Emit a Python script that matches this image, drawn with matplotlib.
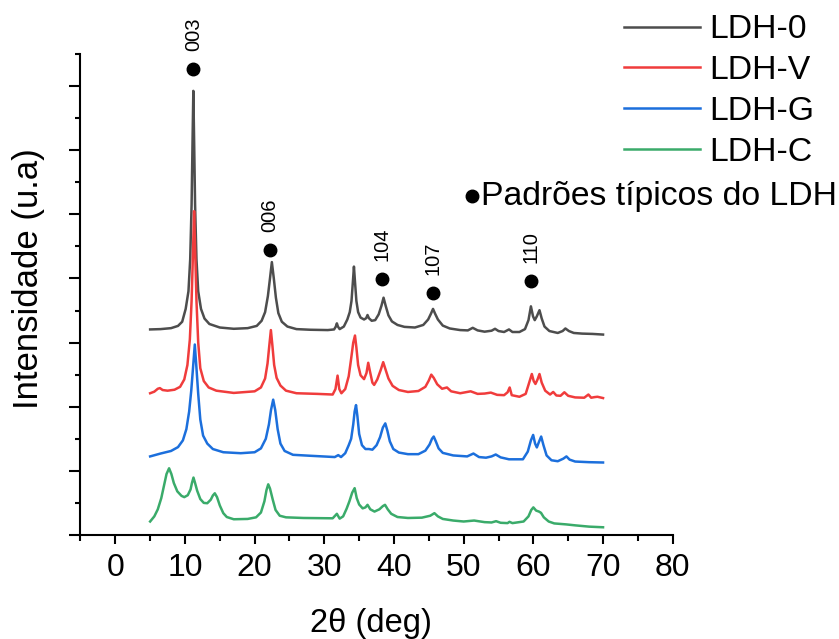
import matplotlib
matplotlib.use("Agg")
import matplotlib.pyplot as plt
from matplotlib.lines import Line2D
from matplotlib.ticker import MultipleLocator

plt.rcParams["font.family"] = ["Liberation Sans", "DejaVu Sans"]

# 2theta (deg) / intensity (u.a.); curves are stacked with offsets
ldh0_x = [5.0, 6.5, 8.0, 9.0, 9.6, 10.1, 10.5, 10.75, 10.95, 11.08, 11.2, 11.32, 11.45,
          11.65, 11.9, 12.3, 12.8, 13.5, 15.0, 17.0, 19.0, 20.3, 21.0, 21.5, 21.9, 22.2,
          22.47, 22.75, 23.05, 23.4, 23.9, 24.7, 26.0, 28.0, 30.5, 31.4, 31.65, 31.8,
          31.95, 32.2, 32.8, 33.3, 33.65, 33.9, 34.1, 34.25, 34.4, 34.6, 34.85, 35.2,
          35.7, 36.0, 36.2, 36.4, 36.8, 37.3, 37.8, 38.2, 38.5, 38.8, 39.2, 39.7, 40.5,
          41.5, 43.0, 44.2, 44.9, 45.3, 45.6, 45.9, 46.3, 47.0, 48.0, 49.5, 50.6, 51.3,
          52.0, 53.0, 54.0, 54.5, 55.0, 55.8, 56.5, 57.0, 58.0, 58.8, 59.3, 59.65, 59.95,
          60.2, 60.5, 60.88, 61.2, 61.6, 62.3, 63.5, 64.2, 64.6, 65.1, 65.8, 67.0, 68.5,
          70.0]
ldh0_y = [6.41, 6.42, 6.45, 6.52, 6.65, 7.05, 7.6, 8.6, 10.3, 12.2, 13.85, 12.2, 10.3,
          8.6, 7.6, 7.05, 6.75, 6.58, 6.47, 6.43, 6.45, 6.52, 6.68, 6.95, 7.45, 8.0,
          8.51, 8.0, 7.4, 6.92, 6.65, 6.5, 6.42, 6.4, 6.39, 6.41, 6.5, 6.6,
          6.5, 6.42, 6.5, 6.72, 6.95, 7.3, 7.9, 8.37, 7.9, 7.3, 6.95, 6.78,
          6.72, 6.76, 6.86, 6.76, 6.68, 6.7, 6.88, 7.15, 7.40, 7.15, 6.85, 6.66, 6.55,
          6.49, 6.47, 6.55, 6.72, 6.9, 7.05, 6.9, 6.72, 6.53, 6.44, 6.39, 6.38, 6.46,
          6.38, 6.34, 6.37, 6.43, 6.36, 6.33, 6.41, 6.33, 6.33, 6.42, 6.7, 7.13, 6.82,
          6.7, 6.82, 7.01, 6.75, 6.5, 6.36, 6.3, 6.36, 6.44, 6.36, 6.3, 6.28, 6.27,
          6.25]

ldhv_x = [5.0, 5.6, 6.1, 6.4, 6.8, 7.5, 8.5, 9.3, 9.9, 10.35, 10.7, 10.95, 11.15, 11.31,
          11.47, 11.65, 11.9, 12.2, 12.7, 13.4, 14.5, 17.0, 20.0, 20.9, 21.5, 21.85, 22.1,
          22.33, 22.55, 22.8, 23.15, 23.7, 24.5, 26.0, 29.0, 31.2, 31.6, 31.9, 32.15,
          32.45, 33.0, 33.5, 33.85, 34.15, 34.4, 34.6, 34.85, 35.2, 35.7, 36.05, 36.3,
          36.55, 36.9, 37.15, 37.6, 38.1, 38.45, 38.8, 39.2, 39.8, 40.7, 42.0, 43.5, 44.5,
          45.0, 45.35, 45.7, 46.2, 46.9, 47.6, 48.2, 49.5, 51.0, 52.0, 53.0, 53.9, 54.8,
          55.8, 56.3, 56.6, 56.9, 58.0, 58.9, 59.4, 59.78, 60.05, 60.3, 60.6, 60.88, 61.2,
          61.7, 62.4, 62.85, 63.3, 63.9, 64.45, 65.0, 66.0, 67.3, 67.9, 68.3, 68.8, 69.2,
          70.0]
ldhv_y = [4.42, 4.47, 4.56, 4.58, 4.52, 4.5, 4.53, 4.62, 4.85, 5.3, 6.1, 7.3, 8.8, 10.10,
          8.8, 7.3, 6.0, 5.2, 4.8, 4.6, 4.5, 4.43, 4.48, 4.6, 4.88, 5.35, 5.9,
          6.39, 5.9, 5.3, 4.9, 4.66, 4.5, 4.42, 4.4, 4.38, 4.55, 4.97, 4.55,
          4.42, 4.55, 4.95, 5.5, 6.0, 6.22, 5.85, 5.3, 4.98, 4.86, 5.05, 5.37,
          5.1, 4.75, 4.68, 4.85, 5.15, 5.39, 5.15, 4.88, 4.65, 4.52, 4.46, 4.49, 4.62,
          4.82, 5.0, 4.9, 4.7, 4.56, 4.6, 4.48, 4.42, 4.48, 4.4, 4.41, 4.44, 4.37,
          4.36, 4.45, 4.6, 4.36, 4.31, 4.4, 4.75, 5.02, 4.8, 4.71, 4.85, 5.02, 4.75,
          4.5, 4.38, 4.46, 4.35, 4.34, 4.45, 4.34, 4.29, 4.28, 4.38, 4.28, 4.3, 4.31,
          4.27]

ldhg_x = [5.0, 6.5, 8.0, 9.0, 9.7, 10.2, 10.6, 10.9, 11.15, 11.41, 11.65, 11.9, 12.2,
          12.6, 13.2, 14.0, 15.5, 18.0, 20.0, 20.9, 21.6, 22.05, 22.35, 22.66, 22.95,
          23.3, 23.7, 24.3, 25.5, 28.0, 31.5, 32.0, 32.4, 33.0, 33.5, 33.85, 34.15, 34.35,
          34.55, 34.75, 35.0, 35.4, 35.9, 36.4, 36.9, 37.5, 38.0, 38.4, 38.75, 39.05,
          39.4, 39.9, 40.7, 42.0, 43.5, 44.5, 45.1, 45.45, 45.7, 46.0, 46.4, 47.0, 48.5,
          50.5, 51.4, 52.2, 53.2, 54.0, 54.6, 55.3, 56.5, 58.5, 59.2, 59.65, 59.97, 60.25,
          60.5, 60.8, 61.12, 61.45, 61.9, 62.6, 63.5, 64.3, 64.75, 65.2, 66.0, 68.0, 70.0]
ldhg_y = [2.45, 2.54, 2.62, 2.74, 2.95, 3.3, 3.85, 4.5, 5.2, 5.94, 5.2, 4.4, 3.6,
          3.1, 2.85, 2.68, 2.58, 2.55, 2.58, 2.7, 3.0, 3.45, 3.9, 4.22, 3.9,
          3.3, 2.85, 2.62, 2.5, 2.47, 2.43, 2.49, 2.43, 2.55, 2.8, 3.0, 3.45, 3.85,
          4.05, 3.7, 3.15, 2.8, 2.68, 2.68, 2.66, 2.8, 3.05, 3.35, 3.48, 3.25,
          2.92, 2.68, 2.57, 2.52, 2.52, 2.63, 2.82, 3.0, 3.07, 2.92, 2.7, 2.56, 2.48,
          2.45, 2.54, 2.43, 2.41, 2.45, 2.51, 2.42, 2.36, 2.36, 2.6, 2.95, 3.12, 2.85,
          2.73, 2.9, 3.07, 2.8, 2.48, 2.33, 2.3, 2.38, 2.45, 2.35, 2.29, 2.27, 2.26]

ldhc_x = [5.0, 5.6, 6.1, 6.6, 7.0, 7.35, 7.72, 8.05, 8.4, 8.9, 9.5, 9.9, 10.4, 10.8,
          11.0, 11.22, 11.45, 11.75, 12.2, 12.7, 13.2, 13.7, 14.0, 14.28, 14.6, 15.0,
          15.5, 16.0, 17.0, 19.0, 20.2, 20.9, 21.4, 21.7, 21.95, 22.2, 22.6, 23.0, 23.6,
          24.5, 27.0, 31.2, 31.8, 32.2, 32.7, 33.2, 33.6, 34.0, 34.35, 34.65, 35.0, 35.5,
          35.9, 36.2, 36.6, 37.2, 37.9, 38.4, 38.71, 39.1, 39.6, 40.5, 42.0, 44.0, 45.2,
          45.8, 46.3, 47.0, 48.5, 50.0, 51.5, 53.0, 54.0, 54.65, 55.3, 56.3, 56.57, 57.0,
          58.6, 59.3, 59.7, 60.0, 60.4, 60.8, 61.1, 61.5, 62.2, 63.0, 64.7, 66.0, 68.0,
          70.0]
ldhc_y = [0.42, 0.58, 0.8, 1.15, 1.55, 1.9, 2.08, 1.9, 1.62, 1.36, 1.22, 1.18, 1.24, 1.42,
          1.62, 1.79, 1.62, 1.38, 1.12, 1.0, 0.99, 1.1, 1.23, 1.30, 1.18, 0.92,
          0.68, 0.56, 0.49, 0.5, 0.55, 0.7, 1.05, 1.4, 1.58, 1.45, 1.1, 0.78, 0.6,
          0.55, 0.53, 0.52, 0.66, 0.51, 0.58, 0.82, 1.05, 1.32, 1.46, 1.15, 0.95, 0.83,
          0.86, 0.94, 0.8, 0.73, 0.8, 0.9, 0.94, 0.8, 0.66, 0.56, 0.53, 0.54, 0.6,
          0.68, 0.58, 0.5, 0.45, 0.42, 0.45, 0.4, 0.39, 0.43, 0.38, 0.37, 0.41, 0.37,
          0.42, 0.58, 0.78, 0.86, 0.76, 0.73, 0.69, 0.55, 0.42, 0.36, 0.33, 0.3, 0.26,
          0.24]

series_names = ["LDH-0", "LDH-V", "LDH-G", "LDH-C"]
series_colors = ["#4d4d4d", "#f03c3c", "#1c6fdc", "#3aab6a"]

# typical LDH reflections marked with dots
hkl_labels = ["003", "006", "104", "107", "110"]
hkl_x = [11.22, 22.18, 38.32, 45.56, 59.68]
hkl_y = [14.53, 8.88, 7.97, 7.55, 7.92]

fig = plt.figure(figsize=(8.39, 6.39), dpi=100)
ax = fig.add_axes([0.0959, 0.1628, 0.7059, 0.7527])

curves = [(ldh0_x, ldh0_y), (ldhv_x, ldhv_y), (ldhg_x, ldhg_y), (ldhc_x, ldhc_y)]
for (xs, ys), name, col in zip(curves, series_names, series_colors):
    ax.plot(xs, ys, color=col, lw=1.8, label=name, solid_joinstyle="round")

ax.plot(hkl_x, hkl_y, "o", color="black", ms=9, ls="none")
for lab, hx, hy in zip(hkl_labels, hkl_x, hkl_y):
    ax.annotate(lab, (hx, hy), xytext=(0, 13), textcoords="offset points",
                rotation=90, ha="center", va="bottom", fontsize=14.5)

ax.set_xlim(-5, 80)
ax.set_ylim(0, 15)
ax.xaxis.set_major_locator(MultipleLocator(10))
ax.xaxis.set_minor_locator(MultipleLocator(5))
ax.yaxis.set_major_locator(MultipleLocator(2))
ax.yaxis.set_minor_locator(MultipleLocator(1))
ax.tick_params(axis="x", which="major", direction="out", length=6.8, width=1.5,
               labelsize=23, pad=6)
ax.tick_params(axis="x", which="minor", direction="out", length=4, width=1.5)
ax.tick_params(axis="y", which="major", direction="out", length=7.7, width=1.5,
               labelleft=False)
ax.tick_params(axis="y", which="minor", direction="out", length=3.4, width=1.5)
for side in ["top", "right"]:
    ax.spines[side].set_visible(False)
for side in ["left", "bottom"]:
    ax.spines[side].set_linewidth(1.5)

ax.set_xlabel("2θ (deg)", fontsize=23.5)
ax.xaxis.set_label_coords(0.49, -0.152)
ax.set_ylabel("Intensidade (u.a)", fontsize=25)
ax.yaxis.set_label_coords(-0.06, 0.532)

ax.legend(loc="upper left", bbox_to_anchor=(622 / 839, 0.98), bbox_transform=fig.transFigure,
          frameon=False, fontsize=24.3, handlelength=2.25, handletextpad=0.28,
          labelspacing=0.29, borderpad=0.05, borderaxespad=0)

fig.add_artist(Line2D([471.7 / 839], [1 - 196 / 639], marker="o", color="black",
                      ms=9, transform=fig.transFigure))
fig.text(481 / 839, 1 - 197 / 639, "Padrões típicos do LDH", fontsize=24.3,
         ha="left", va="center")

fig.savefig("out.png", dpi=100)
